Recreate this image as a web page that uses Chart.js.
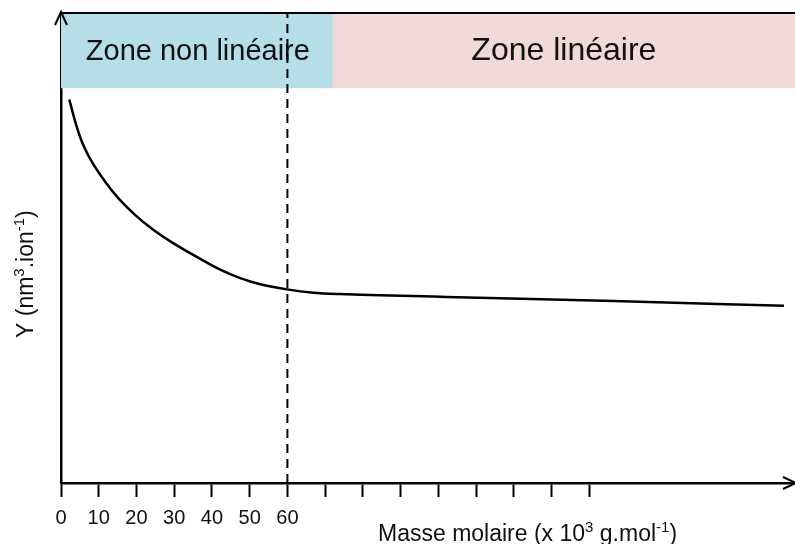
<!DOCTYPE html>
<html>
<head>
<meta charset="utf-8">
<script src="https://cdn.jsdelivr.net/npm/chart.js@4.4.1/dist/chart.umd.min.js"></script>
<style>
  html, body { margin: 0; padding: 0; background: #fff; }
  #wrap { width: 795px; height: 544px; position: relative; }
</style>
</head>
<body>
<div id="wrap"><canvas id="chart"></canvas></div>
<script>
// molar mass (x 10^3 g/mol) and Y along the curve
const masses = [2.2, 3.8, 5.6, 8.2, 11.8, 15.3, 19.7, 24.1, 29.4, 36.9, 42.2, 47.5, 52.8, 59.9, 66.9, 74.0, 102.3, 146.5, 191.6];
const yValues = [81.6, 76.8, 72.5, 68.3, 64.0, 60.5, 57.0, 54.1, 51.2, 47.7, 45.4, 43.6, 42.3, 41.2, 40.5, 40.2, 39.6, 38.7, 37.7];

const xTicks = [0, 10, 20, 30, 40, 50, 60, 70, 80, 90, 100, 110, 120, 130, 140];
const xTickLabels = ["0", "10", "20", "30", "40", "50", "60"];

const boundaryMass = 60;
const zoneLabels = ["Zone non linéaire", "Zone linéaire"];
const zoneStart = [0, 72];
const zoneEnd = [72, 194];
const zoneBottom = 84;

const FONT = "'Liberation Sans', Arial, sans-serif";
const zoneFills = ["#b6dee8", "#f2d9d9"];
const zoneFontSize = [29, 32];

// draws text runs, some of them as superscripts
function drawRuns(ctx, runs, x, y, size) {
  let cx = x;
  runs.forEach(function (r) {
    const s = r.sup ? Math.round(size * 0.65) : size;
    ctx.font = s + "px " + FONT;
    ctx.fillText(r.t, cx, r.sup ? y - size * 0.38 : y);
    cx += ctx.measureText(r.t).width;
  });
}

function arrow(ctx, x, y, dx, dy) {
  // open arrow head whose tip is at (x, y), pointing along (dx, dy)
  const len = 13, half = 6;
  const px = -dy, py = dx;
  ctx.beginPath();
  ctx.moveTo(x - dx * len + px * half, y - dy * len + py * half);
  ctx.lineTo(x, y);
  ctx.lineTo(x - dx * len - px * half, y - dy * len - py * half);
  ctx.stroke();
}

const zonesPlugin = {
  id: "zones",
  beforeDatasetsDraw(chart) {
    const ctx = chart.ctx;
    const xs = chart.scales.x, ys = chart.scales.y;
    const top = ys.getPixelForValue(100);
    const bottom = ys.getPixelForValue(zoneBottom);
    ctx.save();
    zoneLabels.forEach(function (label, i) {
      const x0 = xs.getPixelForValue(zoneStart[i]);
      const x1 = xs.getPixelForValue(zoneEnd[i]) + 2;
      ctx.fillStyle = zoneFills[i];
      ctx.fillRect(x0, top, x1 - x0, bottom - top);
      ctx.fillStyle = "#111";
      ctx.font = zoneFontSize[i] + "px " + FONT;
      ctx.textAlign = "center";
      ctx.textBaseline = "middle";
      ctx.fillText(label, (x0 + x1) / 2, (top + bottom) / 2 + 1);
    });
    // top frame line
    ctx.strokeStyle = "#000";
    ctx.lineWidth = 2;
    ctx.beginPath();
    ctx.moveTo(xs.left, top);
    ctx.lineTo(xs.right + 2, top);
    ctx.stroke();
    ctx.restore();
  },
  afterDraw(chart) {
    const ctx = chart.ctx;
    const area = chart.chartArea;
    ctx.save();
    ctx.strokeStyle = "#000";
    ctx.lineWidth = 2;
    arrow(ctx, area.left, area.top - 1, 0, -1);
    arrow(ctx, area.right + 3, area.bottom, 1, 0);

    ctx.fillStyle = "#111";
    ctx.textAlign = "left";
    ctx.textBaseline = "alphabetic";
    drawRuns(ctx, [
      { t: "Masse molaire (x 10" }, { t: "3", sup: true },
      { t: " g.mol" }, { t: "-1", sup: true }, { t: ")" }
    ], 378, 541, 23);

    ctx.translate(33, 338);
    ctx.rotate(-Math.PI / 2);
    drawRuns(ctx, [
      { t: "Y (nm" }, { t: "3", sup: true },
      { t: ".ion" }, { t: "-1", sup: true }, { t: ")" }
    ], 0, 0, 23);
    ctx.restore();
  }
};

new Chart(document.getElementById("chart"), {
  type: "line",
  data: {
    datasets: [
      {
        data: masses.map((m, i) => ({ x: m, y: yValues[i] })),
        borderColor: "#000",
        borderWidth: 2.5,
        pointRadius: 0,
        cubicInterpolationMode: "monotone",
        fill: false,
      },
      {
        data: [{ x: boundaryMass, y: 0 }, { x: boundaryMass, y: 100 }],
        borderColor: "#000",
        borderWidth: 2,
        borderDash: [9, 6],
        pointRadius: 0,
        fill: false,
      },
    ],
  },
  options: {
    responsive: true,
    maintainAspectRatio: false,
    animation: false,
    events: [],
    layout: { padding: { left: 61, right: 2, top: 13, bottom: 5 } },
    plugins: { legend: { display: false }, tooltip: { enabled: false } },
    scales: {
      x: {
        type: "linear",
        min: 0,
        max: 194,
        afterBuildTicks: function (scale) {
          scale.ticks = xTicks.map((v) => ({ value: v }));
        },
        ticks: {
          autoSkip: false,
          maxRotation: 0,
          padding: 9,
          color: "#111",
          font: { family: FONT, size: 20 },
          callback: function (value) {
            const i = xTicks.indexOf(value);
            return i < xTickLabels.length ? xTickLabels[i] : "";
          },
        },
        grid: {
          drawOnChartArea: false,
          drawTicks: true,
          tickLength: 14,
          tickWidth: 2,
          tickColor: "#000",
        },
        border: { color: "#000", width: 2.5 },
      },
      y: {
        type: "linear",
        min: 0,
        max: 100,
        ticks: { display: false },
        grid: { drawOnChartArea: false, drawTicks: false },
        border: { color: "#000", width: 2.5 },
      },
    },
  },
  plugins: [zonesPlugin],
});
</script>
</body>
</html>
